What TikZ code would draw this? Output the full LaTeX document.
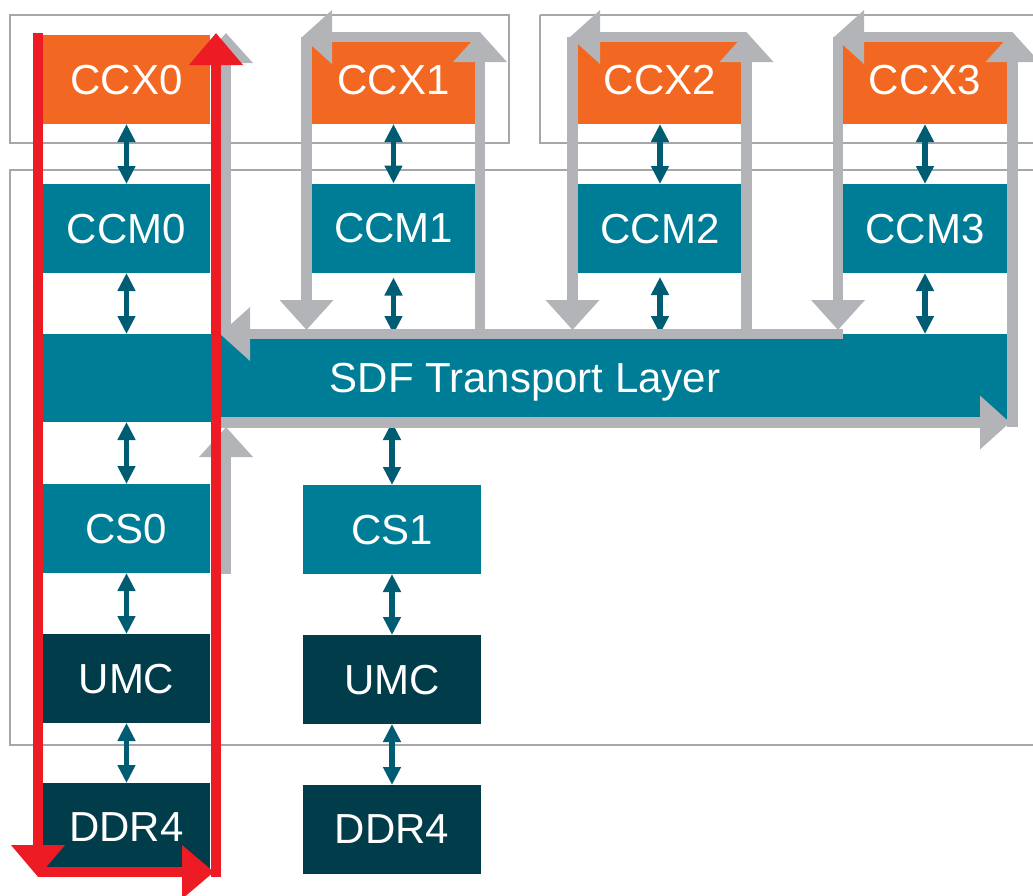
\documentclass[tikz,border=0pt]{standalone}
\usepackage{fontspec}
\setmainfont{Liberation Sans}
\usetikzlibrary{arrows.meta,calc}
\definecolor{ccxorange}{HTML}{F26822}
\definecolor{ccmteal}{HTML}{007D96}
\definecolor{umcdark}{HTML}{013C4B}
\definecolor{linkteal}{HTML}{005C72}
\definecolor{flowgray}{HTML}{B3B4B8}
\definecolor{framegray}{HTML}{A5A7AA}
\definecolor{flowred}{HTML}{ED1C24}
\tikzset{
  blk/.style={draw=none, inner sep=0pt, outer sep=0pt, text=white,
    font=\fontsize{42}{50}\selectfont, text depth=0pt,
    minimum height=89pt, minimum width=167pt},
  narrow/.style={minimum width=164pt},
  wide/.style={minimum width=178pt},
  frame/.style={draw=framegray, line width=2pt},
  link/.style={draw=linkteal, line width=5.5pt,
    {Triangle[width=17pt,length=18pt]}-{Triangle[width=17pt,length=18pt]}},
  gflow/.style={draw=flowgray, line width=10.5pt, -{Triangle[width=52pt,length=30pt]}},
  rflow/.style={draw=flowred, line width=10pt, -{Triangle[width=52pt,length=32pt]}}
}
\begin{document}
\begin{tikzpicture}[x=1pt,y=-1pt]
\useasboundingbox (0,0) rectangle (1033,895);
% frames
\draw[frame] (10,15) rectangle (509,143);
\draw[frame] (540,15) -- (1040,15) (540,15) -- (540,143) -- (1040,143);
\draw[frame] (1040,170) -- (10,170) -- (10,745) -- (1040,745);
% boxes
\node[blk, fill=ccxorange] (ccx0) at (126.5,79.5) {CCX0};
\node[blk, fill=ccmteal]   (ccm0) at (126.5,228.5) {CCM0};
\node[blk, fill=ccmteal, minimum width=964pt, minimum height=88pt] (sdf) at (525,378) {SDF Transport Layer};
\node[blk, fill=ccmteal]   (cs0)  at (126.5,528.5) {CS0};
\node[blk, fill=umcdark]   (umc0) at (126.5,678.5) {UMC};
\node[blk, fill=umcdark]   (ddr0) at (126.5,827.5) {DDR4};
\node[blk, narrow, fill=ccxorange] (ccx1) at (393.5,79.5) {CCX1};
\node[blk, narrow, fill=ccmteal]   (ccm1) at (393.5,228) {CCM1};
\node[blk, narrow, fill=ccxorange] (ccx2) at (660,79.5) {CCX2};
\node[blk, narrow, fill=ccmteal]   (ccm2) at (660,228.5) {CCM2};
\node[blk, narrow, fill=ccxorange] (ccx3) at (925,79.5) {CCX3};
\node[blk, narrow, fill=ccmteal]   (ccm3) at (925,228.5) {CCM3};
\node[blk, wide, fill=ccmteal] (cs1)  at (392,529.5) {CS1};
\node[blk, wide, fill=umcdark] (umc1) at (392,679.5) {UMC};
\node[blk, wide, fill=umcdark] (ddr1) at (392,829.5) {DDR4};
% links
\draw[link] (ccx0.south) -- (ccm0.north);
\draw[link] (ccm0.south) -- (ccm0.south |- sdf.north);
\draw[link] (cs0.north |- sdf.south) -- (cs0.north);
\draw[link] (cs0.south) -- (umc0.north);
\draw[link] (umc0.south) -- (ddr0.north);
\draw[link] (ccx1.south) -- (ccm1.north);
\draw[link, shorten <=5pt] (ccm1.south) -- (ccm1.south |- sdf.north);
\draw[link] (cs1.north |- sdf.south) -- (cs1.north);
\draw[link] (cs1.south) -- (umc1.north);
\draw[link] (umc1.south) -- (ddr1.north);
\draw[link] (ccx2.south) -- (ccm2.north);
\draw[link, shorten <=4pt] (ccm2.south) -- (ccm2.south |- sdf.north);
\draw[link] (ccx3.south) -- (ccm3.north);
\draw[link] (ccm3.south) -- (ccm3.south |- sdf.north);
% gray flows
\draw[gflow] (226,574) -- (226,427);
\draw[gflow] (215,422.5) -- (1010,422.5);
\draw[gflow] (1012.5,427) -- (1012.5,32);
\draw[gflow] (1012,37) -- (834,37);
\draw[gflow] (838,37) -- (838,330);
\draw[gflow] (843,334) -- (220,334);
\draw[gflow] (226,334) -- (226,33);
\draw[gflow] (746.5,334) -- (746.5,32);
\draw[gflow] (746,37) -- (570,37);
\draw[gflow] (572.5,37) -- (572.5,330);
\draw[gflow] (480,334) -- (480,32);
\draw[gflow] (480,37) -- (302,37);
\draw[gflow] (306.5,37) -- (306.5,330);
% red flow
\draw[rflow] (38,33) -- (38,877);
\draw[rflow] (38,872) -- (214,872);
\draw[rflow] (216,877) -- (216,33);
\end{tikzpicture}
\end{document}
